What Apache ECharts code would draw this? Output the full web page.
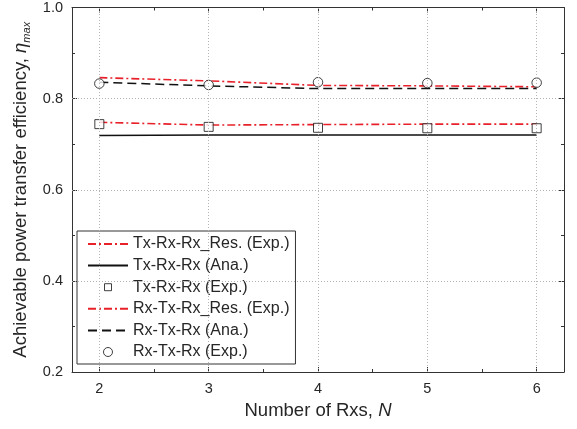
<!DOCTYPE html>
<html><head><meta charset="utf-8">
<script src="https://cdn.jsdelivr.net/npm/echarts@6/dist/echarts.min.js"></script>
<style>html,body{margin:0;padding:0;background:#fff}#c{width:577px;height:429px}</style>
</head><body><div id="c"></div>
<script>
const xValues = [2, 3, 4, 5, 6];
const txRes = [0.748, 0.742, 0.743, 0.744, 0.744];
const txAna = [0.719, 0.720, 0.720, 0.720, 0.720];
const txExp = [0.744, 0.738, 0.736, 0.735, 0.735];
const rxRes = [0.846, 0.839, 0.829, 0.828, 0.826];
const rxAna = [0.836, 0.828, 0.822, 0.822, 0.822];
const rxExp = [0.833, 0.830, 0.836, 0.834, 0.835];
const xMajorTicks = [2, 3, 4, 5, 6];
const xMinorTicks = [2.5, 3.5, 4.5, 5.5];
const yGridValues = [0.4, 0.6, 0.8];
const names = ['Tx-Rx-Rx_Res. (Exp.)', 'Tx-Rx-Rx (Ana.)', 'Tx-Rx-Rx (Exp.)',
               'Rx-Tx-Rx_Res. (Exp.)', 'Rx-Tx-Rx (Ana.)', 'Rx-Tx-Rx (Exp.)'];

const FONT = 'Liberation Sans, Arial, sans-serif';
const RED = '#e8202a';
const AX = '#333';
const TXT = '#262626';
const pair = (ys) => xValues.map((x, i) => [x, ys[i]]);

const xBase = {type: 'value', min: 1.75, max: 6.25, gridIndex: 0};
const chart = echarts.init(document.getElementById('c'));
chart.setOption({
  animation: false,
  grid: {left: 72, right: 13, top: 5, bottom: 57},
  xAxis: [
    Object.assign({}, xBase, {
      position: 'bottom',
      name: 'Number of Rxs, {i|N}', nameLocation: 'middle', nameGap: 29,
      nameTextStyle: {fontSize: 18.5, color: TXT, fontFamily: FONT,
        rich: {i: {fontSize: 18.5, fontStyle: 'italic', color: TXT, fontFamily: FONT}}},
      axisLine: {show: true, lineStyle: {color: AX, width: 1}},
      axisTick: {show: true, inside: true, length: 5, customValues: xMajorTicks, lineStyle: {color: AX}},
      axisLabel: {show: true, customValues: xMajorTicks, margin: 9, fontSize: 14.5, color: TXT, fontFamily: FONT},
      splitLine: {show: false}
    }),
    Object.assign({}, xBase, {
      position: 'bottom',
      axisLine: {show: false},
      axisTick: {show: true, inside: true, length: 3, customValues: xMinorTicks, lineStyle: {color: AX}},
      axisLabel: {show: false}, splitLine: {show: false}
    }),
    Object.assign({}, xBase, {
      position: 'top',
      axisLine: {show: true, lineStyle: {color: AX, width: 1}},
      axisTick: {show: true, inside: true, length: 5, customValues: xMajorTicks, lineStyle: {color: AX}},
      axisLabel: {show: false}, splitLine: {show: false}
    }),
    Object.assign({}, xBase, {
      position: 'top',
      axisLine: {show: false},
      axisTick: {show: true, inside: true, length: 3, customValues: xMinorTicks, lineStyle: {color: AX}},
      axisLabel: {show: false}, splitLine: {show: false}
    })
  ],
  yAxis: [
    {
      type: 'value', min: 0.2, max: 1.0, interval: 0.2, position: 'left',
      name: 'Achievable power transfer efficiency, {i|η}{s|max}',
      nameLocation: 'middle', nameGap: 40, nameRotate: 90,
      nameTextStyle: {fontSize: 18.5, color: TXT, fontFamily: FONT, lineHeight: 22,
        rich: {
          i: {fontSize: 18.5, fontStyle: 'italic', color: TXT, fontFamily: FONT, lineHeight: 22},
          s: {fontSize: 11, fontStyle: 'italic', color: TXT, fontFamily: FONT, verticalAlign: 'bottom', lineHeight: 12}
        }},
      axisLine: {show: true, lineStyle: {color: AX, width: 1}},
      axisTick: {show: true, inside: true, length: 5, lineStyle: {color: AX}},
      minorTick: {show: true, splitNumber: 2, length: 3, lineStyle: {color: AX}},
      axisLabel: {margin: 9, fontSize: 14.5, color: TXT, fontFamily: FONT, formatter: v => v.toFixed(1)},
      splitLine: {show: false}
    },
    {
      type: 'value', min: 0.2, max: 1.0, interval: 0.2, position: 'right',
      axisLine: {show: true, lineStyle: {color: AX, width: 1}},
      axisTick: {show: true, inside: true, length: 5, lineStyle: {color: AX}},
      minorTick: {show: true, splitNumber: 2, length: 3, lineStyle: {color: AX}},
      axisLabel: {show: false}, splitLine: {show: false}
    }
  ],
  legend: {
    orient: 'vertical', left: 77, top: 231, padding: [5, 6, 4, 10],
    itemGap: 5.6, itemWidth: 40, itemHeight: 14, itemTextGap: 5,
    borderColor: AX, borderWidth: 1, backgroundColor: '#fff',
    textStyle: {fontSize: 16, color: TXT, fontFamily: FONT},
    data: [
      {name: names[0]}, {name: names[1]},
      {name: names[2], icon: 'path://M0,0M14,14M3.5,3.5H10.5V10.5H3.5Z', itemStyle: {borderWidth: 1}},
      {name: names[3]}, {name: names[4]},
      {name: names[5], icon: 'path://M0,0M14,14M7,2.5A4.5,4.5,0,1,1,6.99,2.5Z', itemStyle: {borderWidth: 1}}
    ]
  },
  series: [
    {
      type: 'line', name: '_grid', data: [], silent: true, z: 1,
      markLine: {
        silent: true, symbol: ['none', 'none'], label: {show: false},
        lineStyle: {color: '#b5b5b5', type: [1, 2], width: 1},
        emphasis: {disabled: true},
        data: xMajorTicks.map(v => ({xAxis: v})).concat(yGridValues.map(v => ({yAxis: v})))
      }
    },
    {type: 'line', name: names[0], data: pair(txRes), symbol: 'none', z: 3,
     lineStyle: {color: RED, width: 1.6, type: [8, 3, 2, 3]}, itemStyle: {color: RED, opacity: 0}},
    {type: 'line', name: names[1], data: pair(txAna), symbol: 'none', z: 3,
     lineStyle: {color: '#111', width: 1.5, type: 'solid'}, itemStyle: {color: '#111', opacity: 0}},
    {type: 'scatter', name: names[2], data: pair(txExp), symbol: 'rect', symbolSize: 9, z: 4,
     itemStyle: {color: '#fff', borderColor: '#111', borderWidth: 1}},
    {type: 'line', name: names[3], data: pair(rxRes), symbol: 'none', z: 3,
     lineStyle: {color: RED, width: 1.6, type: [8, 3, 2, 3]}, itemStyle: {color: RED, opacity: 0}},
    {type: 'line', name: names[4], data: pair(rxAna), symbol: 'none', z: 3,
     lineStyle: {color: '#111', width: 1.5, type: [9, 5]}, itemStyle: {color: '#111', opacity: 0}},
    {type: 'scatter', name: names[5], data: pair(rxExp), symbol: 'circle', symbolSize: 9.5, z: 4,
     itemStyle: {color: '#fff', borderColor: '#111', borderWidth: 1}}
  ]
});
</script></body></html>
